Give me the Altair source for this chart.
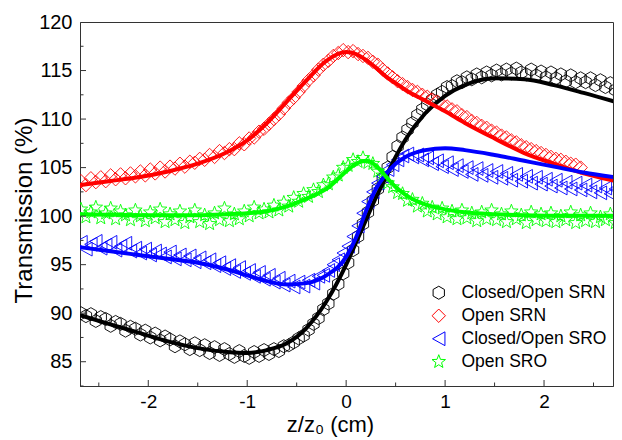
import altair as alt
import pandas as pd

series_names = ["Closed/Open SRN", "Open SRN", "Closed/Open SRO", "Open SRO"]
series_colors = ["#000000", "#ff0000", "#0000ff", "#00ff00"]

# measured z/z0 positions of the scan points
z_points = [
    -2.68, -2.63, -2.58, -2.53, -2.48, -2.43, -2.38, -2.33, -2.28, -2.23,
    -2.18, -2.13, -2.08, -2.03, -1.98, -1.93, -1.88, -1.83, -1.78, -1.73,
    -1.68, -1.63, -1.58, -1.53, -1.48, -1.43, -1.38, -1.33, -1.28, -1.23,
    -1.18, -1.13, -1.08, -1.03, -0.98, -0.93, -0.88, -0.83, -0.78, -0.73,
    -0.68, -0.63, -0.58, -0.53, -0.48, -0.43, -0.38, -0.33, -0.28, -0.23,
    -0.18, -0.13, -0.08, -0.03, 0.02, 0.07, 0.12, 0.17, 0.22, 0.27,
    0.32, 0.37, 0.42, 0.47, 0.52, 0.57, 0.62, 0.67, 0.72, 0.77,
    0.82, 0.87, 0.92, 0.97, 1.02, 1.07, 1.12, 1.17, 1.22, 1.27,
    1.32, 1.37, 1.42, 1.47, 1.52, 1.57, 1.62, 1.67, 1.72, 1.77,
    1.82, 1.87, 1.92, 1.97, 2.02, 2.07, 2.12, 2.17, 2.22, 2.27,
    2.32, 2.37, 2.42, 2.47, 2.52, 2.57, 2.62, 2.67, 2.72, 2.77,
]

srn_closed = [
    90.0, 89.7, 89.9, 89.2, 89.6, 89.4, 88.7, 89.1, 88.9, 88.2,
    88.6, 88.4, 87.8, 88.2, 87.5, 87.9, 87.2, 87.6, 87.3, 86.6,
    87.1, 86.8, 86.3, 86.9, 86.2, 86.7, 85.9, 86.5, 85.7, 86.3,
    85.8, 85.5, 86.1, 85.6, 85.4, 86.0, 85.6, 86.2, 85.8, 86.3,
    86.1, 86.6, 86.7, 87.0, 87.4, 87.7, 88.3, 88.9, 89.5, 90.4,
    91.0, 92.0, 93.0, 94.1, 95.2, 96.5, 97.9, 99.2, 100.4, 101.6,
    102.8, 103.9, 105.0, 106.1, 107.2, 108.1, 108.9, 109.6, 110.4, 111.0,
    111.5, 112.0, 112.5, 112.8, 113.3, 113.4, 113.9, 113.8, 114.3, 114.1,
    114.6, 114.3, 114.8, 114.5, 115.0, 114.6, 115.1, 114.7, 115.2, 114.8,
    114.6, 115.1, 114.5, 114.9, 114.3, 114.8, 114.2, 114.6, 113.9, 114.5,
    113.8, 114.2, 113.8, 114.2, 113.5, 114.0, 113.3, 113.7, 113.0, 113.4,
]

srn_open = [
    103.6, 103.2, 103.9, 103.5, 104.0, 103.6, 104.2, 103.8, 104.3, 103.9,
    104.4, 104.1, 104.6, 104.2, 104.8, 104.4, 105.0, 104.6, 105.1, 104.9,
    105.4, 105.1, 105.6, 105.5, 105.9, 105.8, 106.3, 106.1, 106.7, 106.5,
    106.9, 106.9, 107.5, 107.4, 108.0, 108.1, 108.7, 109.0, 109.5, 110.0,
    110.5, 111.1, 111.7, 112.2, 112.8, 113.4, 114.0, 114.5, 115.1, 115.6,
    116.0, 116.5, 116.8, 117.1, 116.9, 117.0, 116.7, 116.5, 116.3, 115.9,
    115.6, 115.1, 114.7, 114.3, 113.9, 113.6, 113.3, 113.0, 112.8, 112.5,
    112.3, 112.0, 111.8, 111.5, 111.3, 111.0, 110.8, 110.4, 110.2, 109.8,
    109.6, 109.3, 109.1, 108.8, 108.6, 108.3, 108.1, 107.8, 107.6, 107.3,
    107.1, 106.9, 106.7, 106.5, 106.3, 106.1, 105.9, 105.8, 105.6, 105.4,
    105.3, 105.0,
]

sro_closed = [
    97.3, 96.6, 97.1, 97.4, 96.7, 97.0, 97.3, 96.5, 96.9, 97.2,
    96.4, 96.7, 96.2, 96.6, 96.0, 96.4, 96.1, 95.8, 96.3, 95.6,
    96.0, 95.5, 95.9, 95.3, 95.7, 95.2, 95.5, 94.9, 95.2, 94.6,
    94.9, 94.3, 94.7, 94.1, 94.4, 93.8, 94.2, 93.5, 93.9, 93.2,
    93.6, 92.9, 93.3, 92.7, 93.2, 92.8, 93.4, 93.1, 93.8, 93.9,
    94.4, 95.0, 95.5, 96.2, 96.9, 97.9, 99.0, 100.3, 101.5, 102.5,
    103.4, 104.1, 104.8, 105.3, 105.8, 106.2, 106.4, 106.1, 106.3, 105.8,
    106.0, 105.4, 105.7, 105.1, 105.5, 104.8, 105.2, 104.6, 105.0, 104.3,
    104.9, 104.2, 104.7, 104.0, 104.6, 103.9, 104.4, 103.7, 104.3, 103.6,
    104.1, 103.4, 104.0, 103.3, 103.8, 103.1, 103.7, 102.9, 103.5, 102.8,
    103.4, 102.7, 103.2, 102.5, 103.1, 102.4, 102.9, 102.3, 102.8, 102.5,
]

sro_open = [
    100.7, 99.9, 100.4, 100.9, 99.8, 100.3, 100.8, 99.7, 100.5, 100.1,
    99.6, 100.6, 100.0, 99.5, 100.4, 99.8, 100.7, 99.4, 100.2, 99.6,
    100.5, 99.3, 99.9, 100.6, 99.4, 100.1, 99.2, 100.3, 99.6, 100.8,
    99.5, 100.2, 99.7, 100.5, 100.0, 100.9, 100.3, 100.7, 100.4, 101.1,
    100.6, 101.4, 101.0, 101.9, 101.5, 102.3, 102.0, 102.7, 102.5, 103.2,
    103.3, 104.0, 104.2, 105.0, 105.2, 105.8, 105.6, 106.0, 105.5, 105.4,
    104.6, 104.2, 103.4, 103.0, 102.4, 102.3, 101.6, 101.7, 101.0, 101.3,
    100.5, 100.9, 100.2, 100.8, 99.9, 100.5, 99.7, 100.6, 99.8, 100.3,
    99.5, 100.4, 99.7, 100.6, 99.6, 100.2, 99.4, 100.5, 99.7, 100.1,
    99.3, 100.4, 99.6, 100.2, 99.5, 100.3, 99.4, 100.0, 99.6, 100.4,
    99.3, 100.1, 99.5, 100.3, 99.4, 99.9, 99.6, 100.2, 99.3, 99.8,
]

# fitted curves
fit_z = [-2.69, -2.4, -2.1, -1.8, -1.5, -1.2, -1.0, -0.8, -0.6, -0.4, -0.2, 0.0, 0.1,
         0.2, 0.3, 0.4, 0.5, 0.6, 0.8, 1.0, 1.2, 1.5, 1.8, 2.1, 2.4, 2.78]
fit_srn_closed = [89.8, 88.9, 88.0, 87.1, 86.4, 86.0, 85.9, 86.2, 86.9, 88.5, 91.2, 95.0, 97.3,
                  99.6, 101.9, 104.0, 106.1, 107.9, 110.6, 112.4, 113.5, 114.2, 114.1, 113.5, 112.7, 111.6]
fit_srn_open = [103.2, 103.6, 104.0, 104.6, 105.4, 106.6, 107.8, 109.6, 111.8, 114.0, 116.0, 116.9, 116.7,
                116.1, 115.3, 114.4, 113.7, 113.0, 111.9, 110.8, 109.6, 108.0, 106.5, 105.4, 104.4, 103.5]
fit_sro_closed = [96.8, 96.4, 96.0, 95.6, 95.2, 94.5, 93.9, 93.3, 92.95, 93.1, 93.9, 95.8, 97.8,
                  100.5, 102.8, 104.3, 105.4, 106.1, 106.8, 107.0, 106.8, 106.3, 105.7, 105.1, 104.5, 103.9]
fit_sro_open = [100.2, 100.15, 100.1, 100.1, 100.1, 100.2, 100.3, 100.5, 101.0, 101.8, 102.8, 104.6, 105.4,
                105.7, 105.2, 104.1, 103.0, 102.2, 101.2, 100.7, 100.4, 100.2, 100.1, 100.05, 100.05, 100.05]

x_major = [-2, -1, 0, 1, 2]
x_minor = [-2.5, -1.5, -0.5, 0.5, 1.5, 2.5]
y_major = [85, 90, 95, 100, 105, 110, 115]
y_minor = [82.5, 87.5, 92.5, 97.5, 102.5, 107.5, 112.5, 117.5]

hexagon = "M0,-1L0.866,-0.5L0.866,0.5L0,1L-0.866,0.5L-0.866,-0.5Z"
diamond = "M0,-1L1,0L0,1L-1,0Z"
tri_left = "M-0.9,0L0.9,-1L0.9,1Z"
star = ("M0,-1L0.247,-0.34L0.951,-0.309L0.4,0.13L0.588,0.809L0,0.42"
        "L-0.588,0.809L-0.4,0.13L-0.951,-0.309L-0.247,-0.34Z")
shape_paths = [hexagon, diamond, tri_left, star]
marker_sizes = [170, 200, 185, 260]

rows = []
for name, vals in zip(series_names, [srn_closed, srn_open, sro_closed, sro_open]):
    for z, t in zip(z_points, vals):
        rows.append({"series": name, "z": z, "T": t})
markers = pd.DataFrame(rows)

frows = []
for name, vals in zip(series_names, [fit_srn_closed, fit_srn_open, fit_sro_closed, fit_sro_open]):
    for z, t in zip(fit_z, vals):
        frows.append({"series": name, "z": z, "T": t})
fits = pd.DataFrame(frows)

W, H = 533, 364
FONT = "Liberation Sans"
xs = alt.Scale(domain=[-2.69, 2.697], nice=False, zero=False)
ys = alt.Scale(domain=[82.5, 120], nice=False, zero=False)

x_axis = alt.Axis(values=x_major, labelExpr="'' + datum.value", title="z/z\u2080 (cm)",
                  titleX=250, titleY=45, titleBaseline="alphabetic", titleAlign="center",
                  titleFontSize=22, titleFontWeight="normal", labelFontSize=19, labelPadding=6)
y_axis = alt.Axis(values=[85, 90, 95, 100, 105, 110, 115, 120], title="Transmission (%)",
                  titleX=-56, titleY=188, titleAngle=-90, titleBaseline="middle", titleAlign="center",
                  titleFontSize=24, titleFontWeight="normal", labelFontSize=20, labelPadding=8)

legend = alt.Legend(title=None, orient="none", legendX=350, legendY=262, padding=0,
                    symbolSize=180, symbolStrokeWidth=1, labelFontSize=17.5, labelFont=FONT,
                    labelOffset=14, rowPadding=4, labelColor="black")

points = alt.Chart(markers).mark_point(filled=False, strokeWidth=0.9, clip=True, opacity=1).encode(
    x=alt.X("z:Q", scale=xs, axis=x_axis),
    y=alt.Y("T:Q", scale=ys, axis=y_axis),
    color=alt.Color("series:N", scale=alt.Scale(domain=series_names, range=series_colors), legend=legend),
    shape=alt.Shape("series:N", scale=alt.Scale(domain=series_names, range=shape_paths), legend=legend),
    size=alt.Size("series:N", scale=alt.Scale(domain=series_names, range=marker_sizes), legend=None),
)

lines = alt.Chart(fits).mark_line(strokeWidth=4, interpolate="monotone", clip=True).encode(
    x=alt.X("z:Q", scale=xs),
    y=alt.Y("T:Q", scale=ys),
    stroke=alt.Stroke("series:N", scale=alt.Scale(domain=series_names, range=series_colors), legend=None),
    detail="series:N",
)

tick_color = "#333333"
xt_major = alt.Chart(pd.DataFrame({"z": x_major})).mark_rule(color=tick_color, strokeWidth=1).encode(
    x=alt.X("z:Q", scale=xs), y=alt.value(H), y2=alt.value(H - 6))
xt_minor = alt.Chart(pd.DataFrame({"z": x_minor})).mark_rule(color=tick_color, strokeWidth=1, clip=True).encode(
    x=alt.X("z:Q", scale=xs), y=alt.value(H), y2=alt.value(H - 3.5))
yt_major = alt.Chart(pd.DataFrame({"T": y_major})).mark_rule(color=tick_color, strokeWidth=1).encode(
    y=alt.Y("T:Q", scale=ys), x=alt.value(0), x2=alt.value(6))
yt_minor = alt.Chart(pd.DataFrame({"T": y_minor})).mark_rule(color=tick_color, strokeWidth=1).encode(
    y=alt.Y("T:Q", scale=ys), x=alt.value(0), x2=alt.value(3.5))

chart = alt.layer(points, lines, xt_major, xt_minor, yt_major, yt_minor).properties(
    width=W, height=H,
    autosize=alt.AutoSizeParams(type="none"),
    padding={"left": 72, "top": 14, "right": 1, "bottom": 52},
).configure(font=FONT).configure_view(stroke=tick_color, strokeWidth=1).configure_axis(
    grid=False, ticks=False, tickSize=0, domainColor=tick_color, domainWidth=1,
    labelColor="black", titleColor="black", labelFont=FONT, titleFont=FONT,
    titleFontWeight="normal",
)

chart.save("out.html", embed_options={"renderer": "svg", "actions": False})
